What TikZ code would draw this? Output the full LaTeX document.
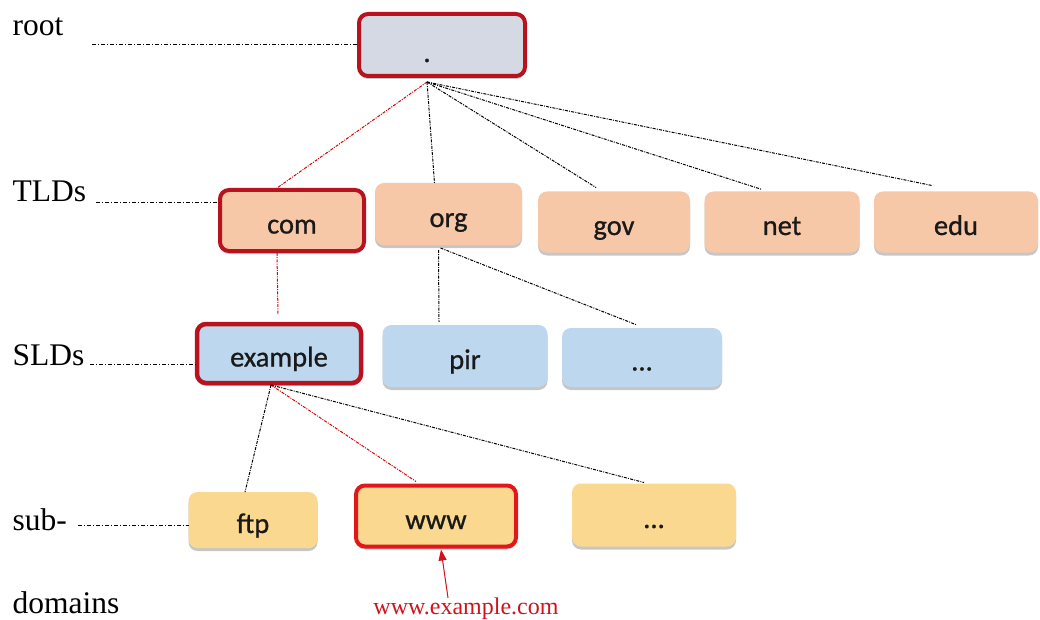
\documentclass[tikz,border=0pt]{standalone}
\usepackage{fontspec}
\setmainfont{Liberation Serif}
\newfontfamily\boxfont[FakeBold=0.8]{Carlito}
\usetikzlibrary{shadows,calc,arrows.meta}
\definecolor{rootfill}{HTML}{D5D9E3}
\definecolor{tldfill}{HTML}{F7C8A8}
\definecolor{sldfill}{HTML}{BDD7EE}
\definecolor{subfill}{HTML}{FBD88F}
\definecolor{darkred}{HTML}{B8121E}
\definecolor{brightred}{HTML}{E3161C}
\definecolor{urlred}{HTML}{D0121B}
\begin{document}
\begin{tikzpicture}[x=1pt,y=-1pt,
  box/.style={rounded corners=9pt, inner sep=0pt, outer sep=0pt,
    text height=26pt, text depth=0pt, font=\boxfont\fontsize{28.5}{30}\selectfont,
    text=black!90,
    drop shadow={shadow xshift=0pt, shadow yshift=-3pt, opacity=0.45, fill=black!50}},
  hl/.style={draw=darkred, line width=4pt},
  hlb/.style={draw=brightred, line width=4pt},
  lvl/.style={anchor=base west, font=\fontsize{31.5}{34}\selectfont},
  tree/.style={line width=1pt, dash pattern=on 3pt off 1.2pt on 1pt off 1.2pt},
  redtree/.style={tree, draw=red!85!black},
  guide/.style={line width=0.9pt, dash pattern=on 4pt off 2pt on 1pt off 2pt}]
\useasboundingbox (0,0) rectangle (1040,620);

% level labels
\node[lvl] (lroot) at (9,36) {root};
\node[lvl] (ltld) at (9,202) {TLDs};
\node[lvl] (lsld) at (9,365) {SLDs};
\node[lvl] (lsub) at (9,530) {sub-};
\node[lvl] (ldom) at (9,613) {domains};

% nodes
\node[box, hl, fill=rootfill, minimum width=166pt, minimum height=62pt] (root) at (442,45) {\hspace*{-30pt}\raisebox{-4pt}{.}};

\node[box, hl, fill=tldfill, minimum width=144pt, minimum height=61pt] (com) at (292,220.5) {com};
\node[box, fill=tldfill, minimum width=147pt, minimum height=62pt] (org) at (448.5,214) {org};
\node[box, fill=tldfill, minimum width=152pt, minimum height=61pt] (gov) at (614,222) {gov};
\node[box, fill=tldfill, minimum width=155pt, minimum height=61pt] (net) at (782,222) {net};
\node[box, fill=tldfill, minimum width=164pt, minimum height=61pt] (edu) at (956,222) {edu};

\node[box, hl, line width=4.5pt, fill=sldfill, minimum width=164pt, minimum height=59pt] (example) at (279,353.5) {example};
\node[box, fill=sldfill, minimum width=165pt, minimum height=62pt] (pir) at (465,356) {pir};
\node[box, fill=sldfill, minimum width=160pt, minimum height=59pt] (sld3) at (642,357.5) {...};

\node[box, fill=subfill, minimum width=129pt, minimum height=56pt] (ftp) at (253,520) {ftp};
\node[box, hlb, fill=subfill, minimum width=160pt, minimum height=61pt] (www) at (436,516) {www};
\node[box, fill=subfill, minimum width=164pt, minimum height=63pt] (sub3) at (654,515) {...};

% guide lines
\coordinate (groot) at (92,44);
\coordinate (gtld) at (96,202);
\coordinate (gsld) at (90,364);
\coordinate (gsub) at (78,525);
\draw[guide] (groot) -- (root.west |- groot);
\draw[guide] (gtld) -- (com.west |- gtld);
\draw[guide] (gsld) -- (example.west |- gsld);
\draw[guide] (gsub) -- (ftp.west |- gsub);

% tree connectors
\draw[redtree] ($(root.south)+(-15,6)$) -- ($(com.north)+(-15,-2)$);
\draw[tree] ($(root.south)+(-15,6)$) -- ($(org.north)+(-14,0)$);
\draw[tree] ($(root.south)+(-15,6)$) -- ($(gov.north)+(-18,-4)$);
\draw[tree] ($(root.south)+(-15,6)$) -- ($(net.north)+(-20,-2)$);
\draw[tree] ($(root.south)+(-15,6)$) -- ($(edu.north)+(-24,-6)$);

\draw[redtree] ($(com.south)+(-15,2)$) -- ($(example.north)+(-1,-9)$);
\draw[tree] ($(org.south)+(-10,5)$) -- ($(pir.north)+(-26,-3)$);
\draw[tree] ($(org.south)+(-8,3)$) -- ($(sld3.north)+(-5,-3)$);

\draw[tree] ($(example.south)+(-8,2)$) -- ($(ftp.north)+(-8,0)$);
\draw[redtree] ($(example.south)+(-8,2)$) -- ($(www.north)+(-20,-4)$);
\draw[tree] ($(example.south)+(-8,2)$) -- ($(sub3.north)+(-10,-1)$);

% url annotation
\node[anchor=base, text=urlred, font=\fontsize{24}{26}\selectfont] (url) at (466,614) {www.example.com};
\draw[urlred, line width=1pt, -{Triangle[length=11pt,width=8pt]}] ($(url.north)+(-18,4)$) -- ($(www.south)+(5,3)$);
\end{tikzpicture}
\end{document}
